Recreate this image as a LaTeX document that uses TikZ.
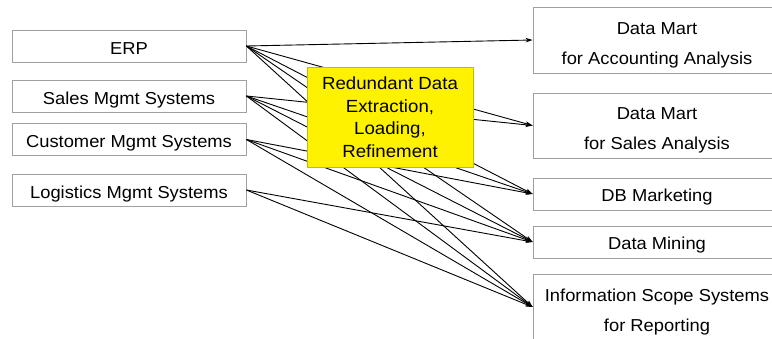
\documentclass[tikz,border=0pt]{standalone}
\usepackage{fontspec}
\setmainfont[FakeStretch=1.06]{Liberation Sans}
\usetikzlibrary{arrows.meta}
\definecolor{boxgray}{RGB}{160,160,160}
\definecolor{ybord}{RGB}{190,190,0}
\newcommand\firststrut{\rule{0pt}{22pt}}
\tikzset{
  srcbox/.style={draw=boxgray, line width=0.8pt, minimum width=234pt, minimum height=32pt, inner sep=0pt, text height=16pt, text depth=0pt, font=\fontsize{17.3}{20}\selectfont},
  dstbox/.style={draw=boxgray, line width=0.8pt, minimum width=248pt, inner sep=0pt, align=center, font=\fontsize{17.3}{30}\selectfont},
  onebox/.style={dstbox, minimum height=32pt, text height=15pt, text depth=0pt},
  hub/.style={draw=ybord, fill=yellow, line width=0.8pt, minimum width=166pt, minimum height=100pt, inner sep=0pt, align=center, font=\fontsize{17.6}{22.5}\selectfont},
  flow/.style={-{Stealth[length=7pt,width=4.5pt]}, line width=0.9pt, black}
}
\begin{document}
\begin{tikzpicture}[x=1pt,y=-1pt]
\useasboundingbox (0,0) rectangle (772,338);
\clip (0,0) rectangle (772,338);
% sources
\node[srcbox] (erp) at (129,46) {ERP};
\node[srcbox] (sales) at (129,96) {Sales Mgmt Systems};
\node[srcbox] (cust) at (129,139.5) {Customer Mgmt Systems};
\node[srcbox] (logi) at (129,190) {Logistics Mgmt Systems};
% targets
\node[dstbox, minimum height=66pt] (acct) at (657,40) {\firststrut Data Mart\\for Accounting Analysis};
\node[dstbox, minimum height=65pt] (sa) at (657,125.5) {\firststrut Data Mart\\for Sales Analysis};
\node[onebox] (dbm) at (657,194) {DB Marketing};
\node[onebox] (dm) at (657,242) {Data Mining};
\node[dstbox, minimum height=66pt] (info) at (657,307) {\firststrut Information Scope Systems\\for Reporting};
% connectors
\foreach \t in {acct,sa,dbm,dm,info} \draw[flow] (erp.east) -- (\t.west);
\foreach \t in {sa,dbm,dm,info} \draw[flow] (sales.east) -- (\t.west);
\foreach \t in {dbm,dm,info} \draw[flow] (cust.east) -- (\t.west);
\foreach \t in {dm,info} \draw[flow] (logi.east) -- (\t.west);
% hub
\node[hub] (hub) at (390,117) {Redundant Data\\Extraction,\\Loading,\\Refinement};
\end{tikzpicture}
\end{document}
